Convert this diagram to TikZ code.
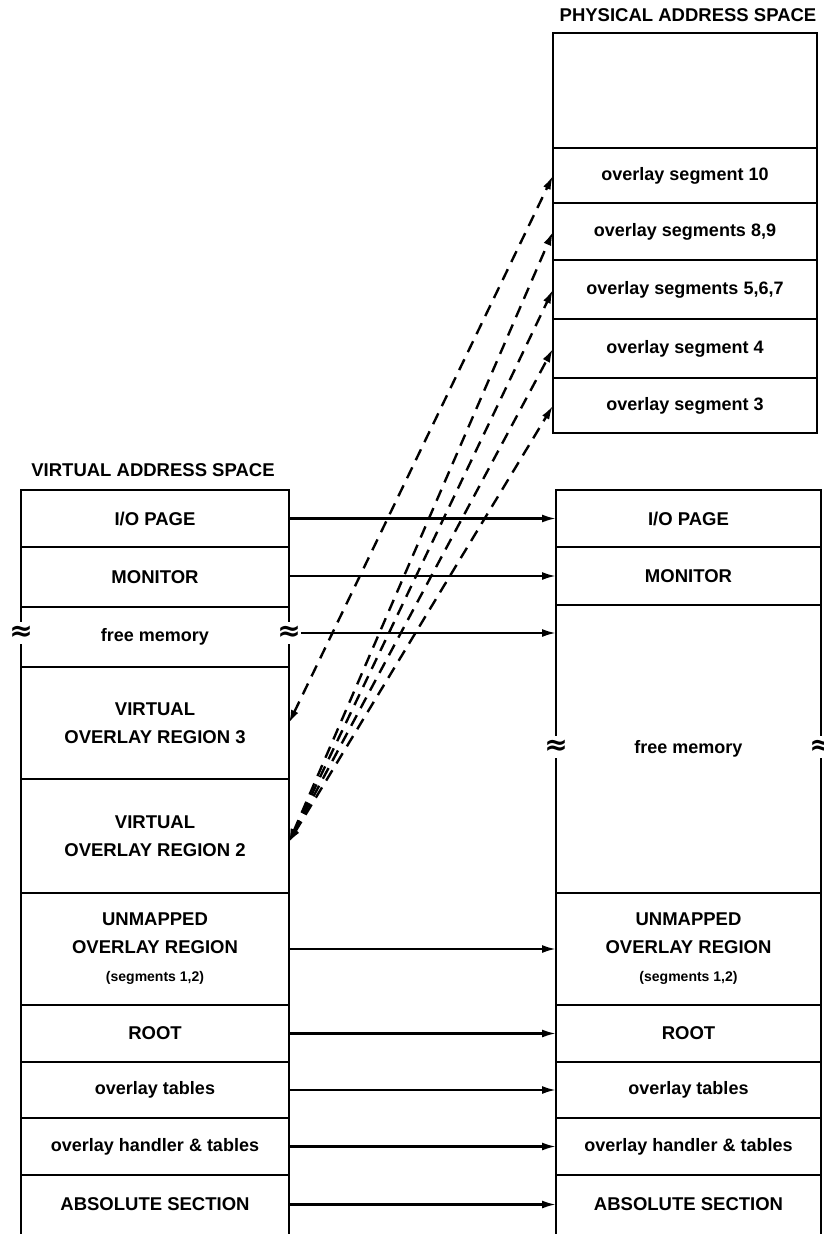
\documentclass[tikz,border=0pt]{standalone}
\usepackage{fontspec}
\setmainfont{Liberation Sans}
\newfontfamily\symfont{DejaVu Sans}
\usetikzlibrary{arrows.meta}
\begin{document}
\begin{tikzpicture}[x=1pt,y=-1pt,
  cell/.style={draw, line width=2.3pt, anchor=north west, inner sep=0pt,
    outer sep=0pt, align=center, font=\bfseries\fontsize{18.5}{28}\selectfont},
  lc/.style={font=\bfseries\fontsize{18}{28}\selectfont},
  opencell/.style={cell, draw=none},
  map/.style={-{Latex[length=14pt,width=8pt]}, line width=2.2pt},
  ovl/.style={{Latex[length=13pt,width=8pt]}-{Latex[length=14pt,width=8pt]},
    line width=2.4pt, dash pattern=on 12pt off 8pt},
  title/.style={font=\bfseries\fontsize{18.5}{22}\selectfont},
  brk/.style={font=\symfont\bfseries\fontsize{28}{28}\selectfont, inner sep=0pt,
    minimum height=22pt, fill=white},
  side/.style={line width=2.3pt}
]
\useasboundingbox (0,0) rectangle (823,1234);

% titles
\node[title] (vtitle) at (153,470) {VIRTUAL ADDRESS SPACE};
\node[title] (ptitle) at (688,15) {PHYSICAL ADDRESS SPACE};

% virtual address space
\begin{scope}[every node/.append style={minimum width=268pt}]
\node[cell, minimum height=57pt] (vio) at (21,490) {I/O PAGE};
\node[cell, minimum height=60pt] (vmon) at (21,547) {MONITOR};
\node[opencell, lc, minimum height=60pt] (vfree) at (21,607) {free memory};
\node[cell, minimum height=112pt] (vr3) at (21,667) {VIRTUAL\\OVERLAY REGION 3};
\node[cell, minimum height=114pt] (vr2) at (21,779) {VIRTUAL\\OVERLAY REGION 2};
\node[cell, minimum height=112pt] (vun) at (21,893)
  {UNMAPPED\\OVERLAY REGION\\{\fontsize{14}{28}\selectfont(segments 1,2)}};
\node[cell, minimum height=57pt] (vroot) at (21,1005) {ROOT};
\node[cell, lc, minimum height=56pt] (vtab) at (21,1062) {overlay tables};
\node[cell, lc, minimum height=57pt] (vhan) at (21,1118) {overlay handler \& tables};
\node[opencell, minimum height=59pt] (vabs) at (21,1175) {ABSOLUTE SECTION};
\end{scope}

% physical address space, lower part
\begin{scope}[every node/.append style={minimum width=265pt}]
\node[cell, minimum height=57pt] (pio) at (556,490) {I/O PAGE};
\node[cell, minimum height=58pt] (pmon) at (556,547) {MONITOR};
\node[opencell, lc, minimum height=288pt] (pfree) at (556,605) {free memory};
\node[cell, minimum height=112pt] (pun) at (556,893)
  {UNMAPPED\\OVERLAY REGION\\{\fontsize{14}{28}\selectfont(segments 1,2)}};
\node[cell, minimum height=57pt] (proot) at (556,1005) {ROOT};
\node[cell, lc, minimum height=56pt] (ptab) at (556,1062) {overlay tables};
\node[cell, lc, minimum height=57pt] (phan) at (556,1118) {overlay handler \& tables};
\node[opencell, minimum height=59pt] (pabs) at (556,1175) {ABSOLUTE SECTION};
\end{scope}

% physical address space, overlay segments
\begin{scope}[every node/.append style={minimum width=264pt}]
\node[cell, minimum height=115pt] (ptop) at (553,33) {};
\node[cell, lc, minimum height=55pt] (s10) at (553,148) {overlay segment 10};
\node[cell, lc, minimum height=57pt] (s89) at (553,203) {overlay segments 8,9};
\node[cell, lc, minimum height=59pt] (s567) at (553,260) {overlay segments 5,6,7};
\node[cell, lc, minimum height=59pt] (s4) at (553,319) {overlay segment 4};
\node[cell, lc, minimum height=55pt] (s3) at (553,378) {overlay segment 3};
\end{scope}

% open sides of the free memory and bottom sections
\draw[side] (vfree.north west) -- (vfree.south west);
\draw[side] (vfree.north east) -- (vfree.south east);
\draw[side] (pfree.north west) -- (pfree.south west);
\draw[side] (pfree.north east) -- (pfree.south east);
\draw[side] (vabs.south west) -- (vabs.north west) -- (vabs.north east) -- (vabs.south east);
\draw[side] (pabs.south west) -- (pabs.north west) -- (pabs.north east) -- (pabs.south east);

% break marks
\node[brk] (vbl) at (21,633) {≈};
\node[brk] (vbr) at (289,633) {≈};
\node[brk] (pbl) at (556,747) {≈};
\node[brk] (pbr) at (821,747) {≈};

% direct mappings
\draw[map] (vio.east) -- (vio.east -| pio.west);
\draw[map] ([yshift=1pt]vmon.east) -- ([yshift=1pt]vmon.east -| pmon.west);
\draw[map] (vbr.east) -- (vbr.east -| pfree.west);
\draw[map] (vun.east) -- (vun.east -| pun.west);
\draw[map] (vroot.east) -- (vroot.east -| proot.west);
\draw[map] (vtab.east) -- (vtab.east -| ptab.west);
\draw[map] (vhan.east) -- (vhan.east -| phan.west);
\draw[map] (vabs.east) -- (vabs.east -| pabs.west);

% overlay mappings
\draw[ovl] (vr3.east) -- (s10.west);
\draw[ovl] ([yshift=-6pt]vr2.east) -- (s89.west);
\draw[ovl] ([yshift=-6pt]vr2.east) -- (s567.west);
\draw[ovl] ([yshift=-6pt]vr2.east) -- (s4.west);
\draw[ovl] ([yshift=-6pt]vr2.east) -- (s3.west);
\end{tikzpicture}
\end{document}
